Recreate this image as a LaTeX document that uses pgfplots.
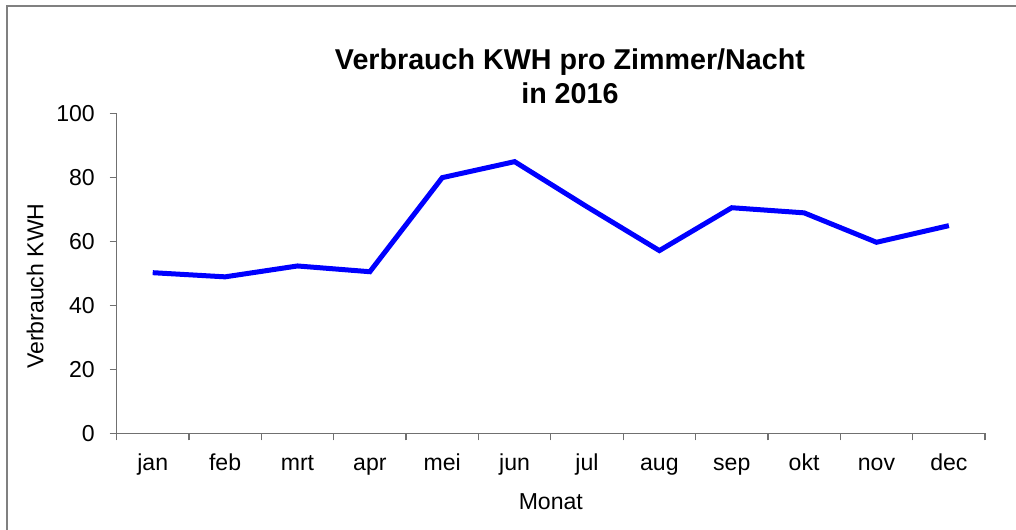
\documentclass[border=0pt]{standalone}
\usepackage{pgfplots}
\pgfplotsset{compat=1.18}
\usepackage{fontspec}
\setmainfont{Liberation Sans}
\definecolor{axgray}{RGB}{112,112,112}
\definecolor{bordergray}{RGB}{128,128,128}
\definecolor{lineblue}{RGB}{0,0,255}
\begin{document}
\begin{tikzpicture}
\useasboundingbox (0,0) rectangle (762pt,397.5pt);
\draw[bordergray, line width=1.2pt] (5.25pt,-20pt) -- (5.25pt,393pt) -- (800pt,393pt);
\begin{axis}[
  at={(87.4pt,72.5pt)}, anchor=origin,
  scale only axis, width=651.4pt, height=240pt,
  xmin=0.5, xmax=12.5, ymin=0, ymax=100,
  axis x line*=bottom, axis y line*=left,
  axis line style={axgray, line width=1pt},
  tick align=outside,
  major tick length=5.25pt,
  tick style={axgray, line width=1pt},
  xtick={0.5,1.5,...,12.5}, xticklabels={},
  extra x ticks={1,2,...,12},
  extra x tick labels={jan,feb,mrt,apr,mei,jun,jul,aug,sep,okt,nov,dec},
  extra x tick style={major tick length=0pt},
  ytick={0,20,...,100},
  /pgf/number format/assume math mode=true,
  ticklabel style={font=\fontsize{17.3pt}{20pt}\selectfont},
  xticklabel style={text height=12.5pt, text depth=3.5pt, yshift=-12pt},
  yticklabel style={xshift=-7.5pt},
  xlabel={Monat},
  ylabel={Verbrauch KWH},
  label style={font=\fontsize{17.3pt}{20pt}\selectfont},
  xlabel style={at={(axis description cs:0.5,0)}, anchor=base, yshift=-56.8pt},
  ylabel style={at={(axis description cs:-0.0936,0.46)}, anchor=center},
  title={Verbrauch KWH pro Zimmer/Nacht\\in 2016},
  title style={at={(axis description cs:0.522,1)}, anchor=south, inner sep=0pt, yshift=1pt, align=center, font=\fontsize{21.5pt}{25.5pt}\selectfont\bfseries},
  clip=false,
]
\addplot[lineblue, line width=3.75pt, line join=miter, mark=none] coordinates {
  (1,50.2) (2,48.9) (3,52.3) (4,50.5) (5,79.9) (6,84.9)
  (7,70.8) (8,57.1) (9,70.5) (10,68.9) (11,59.7) (12,64.9)
};
\end{axis}
\end{tikzpicture}
\end{document}
